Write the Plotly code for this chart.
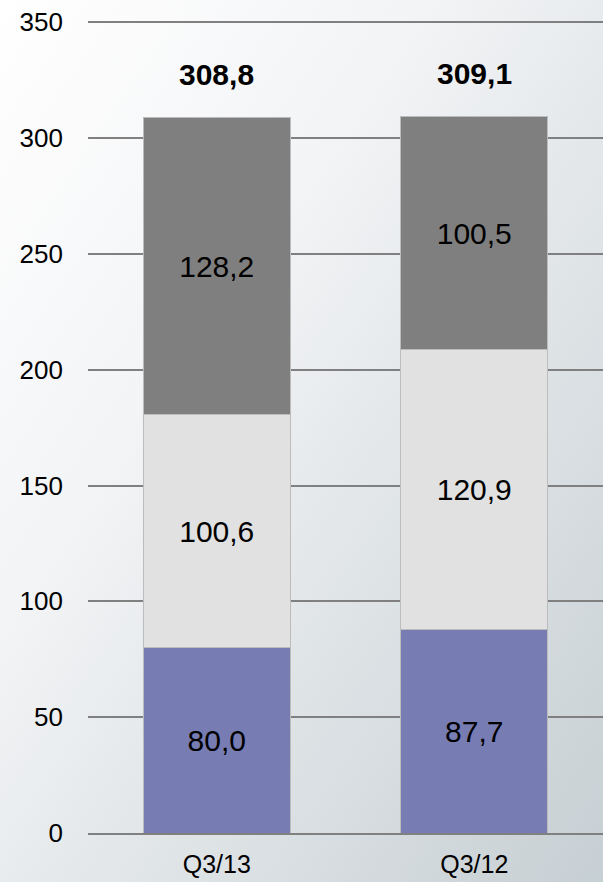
import base64
import plotly.graph_objects as go

# data
quarters = ["Q3/13", "Q3/12"]
bottom_vals = [80.0, 87.7]
middle_vals = [100.6, 120.9]
top_vals = [128.2, 100.5]
totals = [308.8, 309.1]
y_ticks = [0, 50, 100, 150, 200, 250, 300, 350]

# diagonal grey gradient used as page background
svg = """<svg xmlns='http://www.w3.org/2000/svg' width='603' height='882'>
<defs><linearGradient id='g' x1='0' y1='0' x2='1' y2='1'>
<stop offset='0' stop-color='#ffffff'/>
<stop offset='0.35' stop-color='#f3f4f6'/>
<stop offset='1' stop-color='#c6cfd3'/>
</linearGradient></defs>
<rect width='603' height='882' fill='url(#g)'/></svg>"""
bg_uri = "data:image/svg+xml;base64," + base64.b64encode(svg.encode()).decode()

fig = go.Figure()

seg_colors = ["#777db3", "#e1e1e1", "#7f7f7f"]
for vals, col in zip([bottom_vals, middle_vals, top_vals], seg_colors):
    fig.add_trace(go.Bar(
        x=quarters, y=vals, width=0.57,
        marker=dict(color=col, line=dict(color="#bcbcbc", width=1)),
        texttemplate="%{y:.1f}", textposition="inside", insidetextanchor="middle",
        textfont=dict(size=30, color="#000000", family="Liberation Sans"),
        textangle=0, hoverinfo="skip", showlegend=False,
    ))

# bold totals above each stack
for q, t in zip(quarters, totals):
    fig.add_annotation(
        x=q, y=t, text="<b>" + f"{t:.1f}".replace(".", ",") + "</b>",
        showarrow=False, yanchor="bottom", yshift=25,
        font=dict(size=30, color="#000000", family="Liberation Sans"),
    )

fig.add_layout_image(dict(
    source=bg_uri, xref="paper", yref="paper", x=-88 / 515, y=1 + 21 / 812,
    sizex=603 / 515, sizey=882 / 812, xanchor="left", yanchor="top",
    sizing="stretch", layer="below",
))

fig.update_layout(
    barmode="stack", width=603, height=882,
    margin=dict(l=88, r=0, t=21, b=49, autoexpand=False),
    paper_bgcolor="#ffffff", plot_bgcolor="rgba(0,0,0,0)",
    separators=",.",
    font=dict(family="Liberation Sans", color="#000000"),
    uniformtext=dict(mode=False),
)
fig.update_yaxes(
    range=[0, 350.5], tickvals=y_ticks, showgrid=True, gridcolor="#808080",
    gridwidth=1.5, zeroline=False, showline=False, ticks="",
    ticklabelstandoff=24, tickfont=dict(size=26, family="Liberation Sans"),
)
fig.update_xaxes(
    range=[-0.5, 1.5], showgrid=False, showline=True, linecolor="#808080",
    linewidth=1.5, ticks="", ticklabelstandoff=8,
    tickfont=dict(size=25, family="Liberation Sans"),
)

fig.write_html("out.html", config={"displayModeBar": False},
               post_script="document.body.style.margin='0';")
